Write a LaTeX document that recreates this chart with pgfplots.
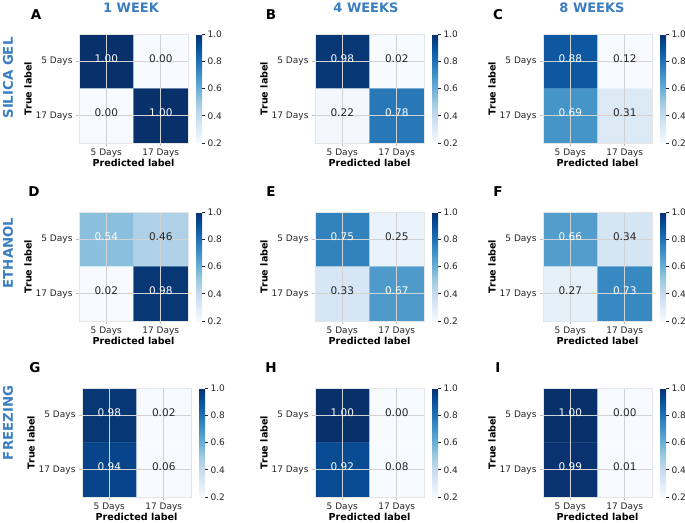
\documentclass[border=0pt]{standalone}
\usepackage{pgfplots}
\pgfplotsset{compat=1.18}
\usepackage{fontspec}
\setmainfont{DejaVu Sans}
\definecolor{ttl}{RGB}{58,126,193}
\definecolor{txt}{RGB}{38,38,38}
\pgfplotsset{
  colormap={blues}{rgb255=(247,251,255) rgb255=(222,235,247) rgb255=(198,219,239) rgb255=(158,202,225) rgb255=(107,174,214) rgb255=(66,146,198) rgb255=(33,113,181) rgb255=(8,81,156) rgb255=(8,48,107)},
  cm/.style={
    anchor=north west,
    scale only axis, width=109pt, height=109pt,
    xmin=-0.5, xmax=1.5, ymin=-0.5, ymax=1.5, y dir=reverse,
    xtick={0,1}, ytick={0,1},
    xticklabels={5 Days,17 Days}, yticklabels={5 Days,17 Days},
    xtick pos=bottom, ytick pos=left,
    tick align=outside, major tick length=3pt,
    major tick style={gray!50, line width=0.6pt},
    tick label style={font=\fontsize{9}{10}\selectfont, text=txt},
    xlabel={Predicted label}, ylabel={True label},
    label style={font=\fontsize{9.6}{11}\selectfont\bfseries, text=black},
    xlabel style={yshift=5pt}, ylabel style={yshift=-3pt},
    xticklabel style={yshift=1pt},
    grid=major, major grid style={gray!35, line width=0.7pt},
    axis line style={gray!20, line width=0.8pt},
    axis on top,
    colormap name=blues,
    point meta min=0.2, point meta max=1.0,
    colorbar,
    colorbar style={
      at={(parent axis.north east)}, anchor=north west, xshift=-0.5pt,
      width=6pt, height=109pt, scale only axis,
      ytick={0.2,0.4,0.6,0.8,1.0},
      yticklabel style={font=\fontsize{9}{10}\selectfont, text=txt, xshift=-1pt,
        /pgf/number format/.cd, fixed, fixed zerofill, precision=1, assume math mode=true},
      tick align=outside, major tick length=3pt,
      major tick style={txt, line width=0.6pt},
      axis line style={draw=none},
      ytick pos=right, grid=none,
    },
  },
  heat/.style={matrix plot*, mesh/cols=2, point meta=explicit},
  wtext/.style={only marks, mark=none, nodes near coords, point meta=explicit symbolic,
    nodes near coords style={anchor=center, font=\fontsize{10.5}{12}\selectfont, text=white, yshift=3pt}},
  btext/.style={only marks, mark=none, nodes near coords, point meta=explicit symbolic,
    nodes near coords style={anchor=center, font=\fontsize{10.5}{12}\selectfont, text=txt, yshift=3pt}},
}
\begin{document}
\begin{tikzpicture}
\path[use as bounding box] (0,0) rectangle (685pt,-522pt);
% column titles
\node[font=\fontsize{13}{15}\selectfont\bfseries, text=ttl] at (131pt,-8pt) {1 WEEK};
\node[font=\fontsize{13}{15}\selectfont\bfseries, text=ttl] at (366pt,-8pt) {4 WEEKS};
\node[font=\fontsize{13}{15}\selectfont\bfseries, text=ttl] at (592pt,-8pt) {8 WEEKS};
% row titles
\node[font=\fontsize{13.3}{15}\selectfont\bfseries, text=ttl, rotate=90] at (8pt,-78pt) {SILICA GEL};
\node[font=\fontsize{13.3}{15}\selectfont\bfseries, text=ttl, rotate=90] at (8pt,-253pt) {ETHANOL};
\node[font=\fontsize{13.3}{15}\selectfont\bfseries, text=ttl, rotate=90] at (8pt,-423pt) {FREEZING};
% panel letters
\foreach \l/\x/\y in {A/36/15, B/271/15, C/498/15, D/34/192, E/271/192, F/498/192, G/35/368, H/271/368, I/498/368}
  \node[font=\fontsize{13.5}{15}\selectfont\bfseries] at (\x pt,-\y pt) {\l};

% A
\begin{axis}[cm, at={(79pt,-34pt)}]
\addplot[heat] coordinates {(0,0)[1.00] (1,0)[0.00] (0,1)[0.00] (1,1)[1.00]};
\addplot[wtext] coordinates {(0,0)[1.00] (1,1)[1.00]};
\addplot[btext] coordinates {(1,0)[0.00] (0,1)[0.00]};
\end{axis}
% B
\begin{axis}[cm, at={(315pt,-34pt)}]
\addplot[heat] coordinates {(0,0)[0.98] (1,0)[0.02] (0,1)[0.22] (1,1)[0.78]};
\addplot[wtext] coordinates {(0,0)[0.98] (1,1)[0.78]};
\addplot[btext] coordinates {(1,0)[0.02] (0,1)[0.22]};
\end{axis}
% C
\begin{axis}[cm, at={(543pt,-34pt)}]
\addplot[heat] coordinates {(0,0)[0.88] (1,0)[0.12] (0,1)[0.69] (1,1)[0.31]};
\addplot[wtext] coordinates {(0,0)[0.88] (0,1)[0.69]};
\addplot[btext] coordinates {(1,0)[0.12] (1,1)[0.31]};
\end{axis}
% D
\begin{axis}[cm, at={(79pt,-212pt)}]
\addplot[heat] coordinates {(0,0)[0.54] (1,0)[0.46] (0,1)[0.02] (1,1)[0.98]};
\addplot[wtext] coordinates {(0,0)[0.54] (1,1)[0.98]};
\addplot[btext] coordinates {(1,0)[0.46] (0,1)[0.02]};
\end{axis}
% E
\begin{axis}[cm, at={(315pt,-212pt)}]
\addplot[heat] coordinates {(0,0)[0.75] (1,0)[0.25] (0,1)[0.33] (1,1)[0.67]};
\addplot[wtext] coordinates {(0,0)[0.75] (1,1)[0.67]};
\addplot[btext] coordinates {(1,0)[0.25] (0,1)[0.33]};
\end{axis}
% F
\begin{axis}[cm, at={(543pt,-212pt)}]
\addplot[heat] coordinates {(0,0)[0.66] (1,0)[0.34] (0,1)[0.27] (1,1)[0.73]};
\addplot[wtext] coordinates {(0,0)[0.66] (1,1)[0.73]};
\addplot[btext] coordinates {(1,0)[0.34] (0,1)[0.27]};
\end{axis}
% G
\begin{axis}[cm, at={(82pt,-388pt)}]
\addplot[heat] coordinates {(0,0)[0.98] (1,0)[0.02] (0,1)[0.94] (1,1)[0.06]};
\addplot[wtext] coordinates {(0,0)[0.98] (0,1)[0.94]};
\addplot[btext] coordinates {(1,0)[0.02] (1,1)[0.06]};
\end{axis}
% H
\begin{axis}[cm, at={(315pt,-388pt)}]
\addplot[heat] coordinates {(0,0)[1.00] (1,0)[0.00] (0,1)[0.92] (1,1)[0.08]};
\addplot[wtext] coordinates {(0,0)[1.00] (0,1)[0.92]};
\addplot[btext] coordinates {(1,0)[0.00] (1,1)[0.08]};
\end{axis}
% I
\begin{axis}[cm, at={(543pt,-388pt)}]
\addplot[heat] coordinates {(0,0)[1.00] (1,0)[0.00] (0,1)[0.99] (1,1)[0.01]};
\addplot[wtext] coordinates {(0,0)[1.00] (0,1)[0.99]};
\addplot[btext] coordinates {(1,0)[0.00] (1,1)[0.01]};
\end{axis}
\end{tikzpicture}
\end{document}
